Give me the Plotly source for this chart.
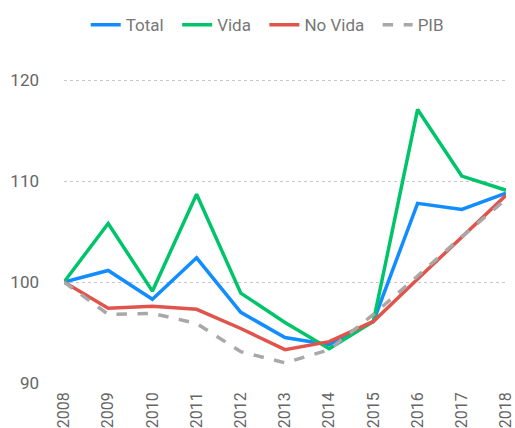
import plotly.graph_objects as go

years = [2008, 2009, 2010, 2011, 2012, 2013, 2014, 2015, 2016, 2017, 2018]
total = [100, 101.15, 98.3, 102.4, 97.0, 94.5, 93.8, 96.1, 107.8, 107.2, 108.8]
vida = [100, 105.8, 99.1, 108.7, 98.9, 96.0, 93.4, 96.1, 117.1, 110.5, 109.1]
no_vida = [100, 97.4, 97.6, 97.3, 95.4, 93.3, 94.1, 96.1, 100.3, 104.4, 108.6]
pib = [100, 96.8, 96.9, 95.9, 93.1, 92.0, 93.3, 96.8, 100.6, 104.5, 108.2]
y_ticks = [90, 100, 110, 120]

fig = go.Figure()
series = [
    ("Total", total, "#118DFF", "solid"),
    ("Vida", vida, "#00C46A", "solid"),
    ("No Vida", no_vida, "#E0544C", "solid"),
    ("PIB", pib, "#A8A8A8", "dash"),
]
for name, vals, color, dash in series:
    fig.add_trace(go.Scatter(x=years, y=vals, name=name + "\u00a0\u00a0", mode="lines",
                             line=dict(color=color, width=3.5, dash=dash)))

fig.update_layout(
    width=515, height=428,
    margin=dict(l=64, r=9, t=60, b=45, autoexpand=False),
    plot_bgcolor="white", paper_bgcolor="white",
    font=dict(family="Roboto", color="#666666", size=16),
    legend=dict(orientation="h", x=0.47, xanchor="center", y=1.108, yanchor="middle",
                font=dict(size=17, color="#777777"), itemwidth=30, traceorder="normal"),
    xaxis=dict(range=[2008, 2018.0001], tickvals=years, ticktext=[str(y) for y in years],
               tickangle=-90, showgrid=False, zeroline=False, showline=False,
               automargin=False, ticklabeloverflow="allow",
               tickfont=dict(size=16, color="#666666"), ticklabelstandoff=5),
    yaxis=dict(range=[90, 122], tickvals=y_ticks, showgrid=True, gridcolor="#C8C8C8",
               griddash="dot", gridwidth=1, zeroline=False, showline=False,
               automargin=False,
               tickfont=dict(size=17, color="#666666"), ticklabelstandoff=24),
)
fig.write_html("out.html", config={"displayModeBar": False})

with open("out.html", "r", encoding="utf-8") as f:
    html = f.read()
html = html.replace("<head>", "<head><style>html,body{margin:0;padding:0;overflow:hidden;}</style>", 1)
with open("out.html", "w", encoding="utf-8") as f:
    f.write(html)
